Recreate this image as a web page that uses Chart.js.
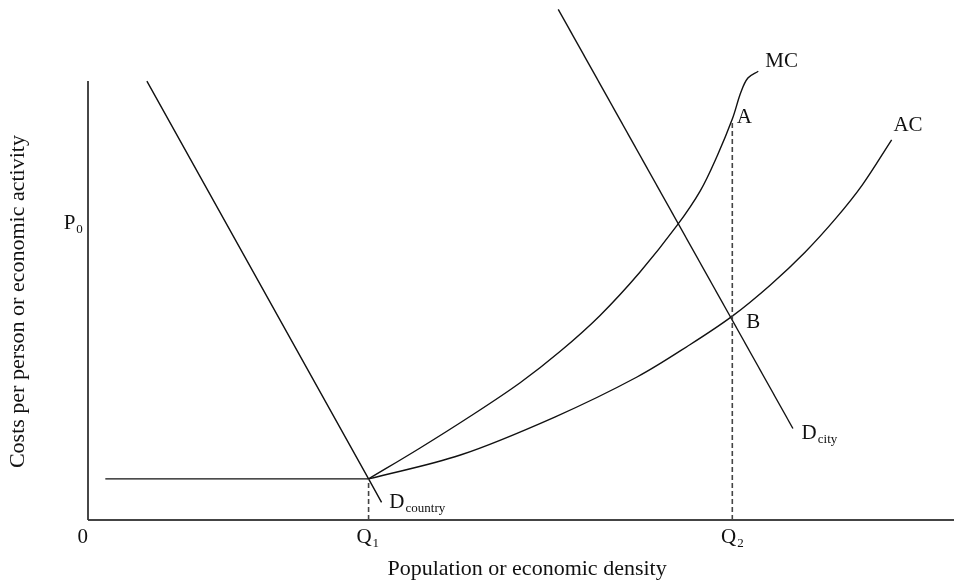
<!DOCTYPE html>
<html>
<head>
<meta charset="utf-8">
<script src="https://cdn.jsdelivr.net/npm/chart.js@4.4.1/dist/chart.umd.min.js"></script>
<style>
  body { margin: 0; background: #fff; }
  canvas { display: block; }
</style>
</head>
<body>
<canvas id="cityChart" width="954" height="581"></canvas>
<script>
// values (x: density, y: cost, arbitrary units 0-100)
const q1 = 32.4;
const q2 = 74.4;
const p0 = 57.1;
const kinkCost = 7.9;

const flatX = [2.0, q1];
const flatY = [kinkCost, kinkCost];

const dCountryX = [6.8, q1, 33.9];
const dCountryY = [84.4, kinkCost, 3.4];

const dCityX = [54.3, 81.4];
const dCityY = [98.2, 17.6];

const mcX = [32.4, 38.3, 44.1, 49.9, 54.5, 59.1, 63.7, 68.0, 70.7, 72.7, 74.4, 75.4, 76.2, 77.4];
const mcY = [7.9, 13.8, 19.9, 26.4, 32.4, 39.3, 47.6, 56.6, 63.3, 70.2, 77.1, 82.3, 85.0, 86.3];

const acX = [32.4, 43.0, 53.9, 63.4, 69.5, 74.4, 78.8, 82.8, 86.3, 89.4, 92.8];
const acY = [7.9, 12.5, 19.8, 27.5, 33.7, 39.2, 45.2, 51.5, 57.9, 64.4, 73.1];

const axisTop = 84.4;
const pointA = 76.5;

function pts(xs, ys) {
    return xs.map(function(x, i) { return { x: x, y: ys[i] }; });
}

// text labels: [main, subscript, x, y, align]
const labels = [
    ['0', '', -0.6, -3.3, 'center'],
    ['Q', '1', q1 - 0.1, -3.3, 'center'],
    ['Q', '2', q2, -3.3, 'center'],
    ['P', '0', -1.7, p0, 'center'],
    ['A', '', 74.9, 77.5, 'left'],
    ['B', '', 76.0, 37.9, 'left'],
    ['MC', '', 78.2, 88.1, 'left'],
    ['AC', '', 93.0, 75.8, 'left'],
    ['D', 'city', 82.4, 16.7, 'left'],
    ['D', 'country', 34.8, 3.3, 'left']
];

const xTitle = 'Population or economic density';
const yTitle = 'Costs per person or economic activity';

const serif = '"Liberation Serif", "DejaVu Serif", serif';

const textPlugin = {
    id: 'textPlugin',
    afterDatasetsDraw: function(chart) {
        const ctx = chart.ctx;
        const xs = chart.scales.x;
        const ys = chart.scales.y;
        ctx.save();
        ctx.fillStyle = '#111';
        ctx.textBaseline = 'middle';
        labels.forEach(function(l) {
            const px = xs.getPixelForValue(l[2]);
            const py = ys.getPixelForValue(l[3]);
            ctx.font = '21px ' + serif;
            const wMain = ctx.measureText(l[0]).width;
            ctx.font = '13px ' + serif;
            const wSub = l[1] ? ctx.measureText(l[1]).width + 1 : 0;
            let left = px;
            if (l[4] === 'center') left = px - (wMain + wSub) / 2;
            ctx.textAlign = 'left';
            ctx.font = '21px ' + serif;
            ctx.fillText(l[0], left, py);
            if (l[1]) {
                ctx.font = '13px ' + serif;
                ctx.fillText(l[1], left + wMain + 1, py + 6);
            }
        });
        ctx.font = '22px ' + serif;
        ctx.textAlign = 'center';
        ctx.fillText(xTitle, xs.getPixelForValue(50.7), ys.getPixelForValue(-9.4));
        ctx.translate(xs.getPixelForValue(-8.1), ys.getPixelForValue(42.0));
        ctx.rotate(-Math.PI / 2);
        ctx.fillText(yTitle, 0, 0);
        ctx.restore();
    }
};

function line(data, extra) {
    return Object.assign({
        data: data,
        showLine: true,
        borderColor: '#111',
        borderWidth: 1.4,
        pointRadius: 0,
        tension: 0,
        clip: false
    }, extra || {});
}

new Chart(document.getElementById('cityChart').getContext('2d'), {
    type: 'scatter',
    data: {
        datasets: [
            // axes
            line(pts([0, 0], [0, axisTop]), { borderColor: '#333', borderWidth: 1.8 }),
            line(pts([0, 100], [0, 0]), { borderColor: '#444', borderWidth: 1.8 }),
            // dashed guides
            line(pts([q1, q1], [0, kinkCost]), { borderColor: '#444', borderWidth: 1.6, borderDash: [5, 3] }),
            line(pts([q2, q2], [0, pointA]), { borderColor: '#444', borderWidth: 1.6, borderDash: [5, 3] }),
            // curves
            line(pts(flatX, flatY)),
            line(pts(dCountryX, dCountryY)),
            line(pts(dCityX, dCityY)),
            line(pts(mcX, mcY), { tension: 0.35 }),
            line(pts(acX, acY), { tension: 0.35 })
        ]
    },
    options: {
        responsive: false,
        animation: false,
        layout: { padding: { left: 88, top: 0, right: 0, bottom: 61 } },
        plugins: {
            legend: { display: false },
            tooltip: { enabled: false }
        },
        scales: {
            x: { type: 'linear', min: 0, max: 100, display: false },
            y: { type: 'linear', min: 0, max: 100, display: false }
        }
    },
    plugins: [textPlugin]
});
</script>
</body>
</html>
